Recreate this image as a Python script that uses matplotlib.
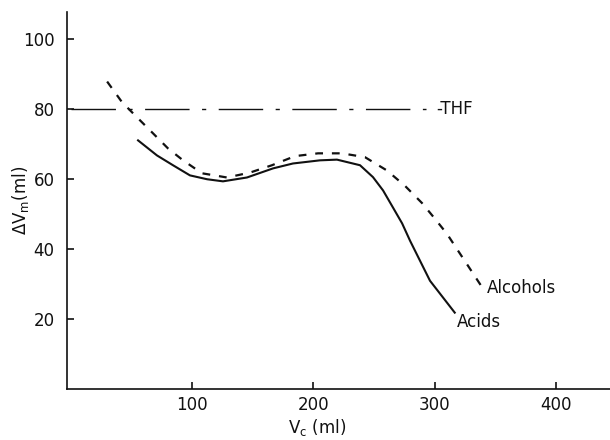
import matplotlib
matplotlib.use("Agg")
import matplotlib.pyplot as plt

plt.rcParams.update({"font.family": "DejaVu Sans", "font.size": 12,
                     "mathtext.default": "regular"})

# ---- elution data ----
VC_ACIDS = [55.5, 71.1, 84.3, 98.3, 112.4, 125.5, 145.3, 166.8, 183.2, 205.5,
            219.5, 238.5, 249.2, 257.5, 265.7, 273.2, 279.8, 288.0, 296.2,
            304.5, 316.6]
DV_ACIDS = [71.0, 66.7, 63.9, 61.0, 59.9, 59.3, 60.4, 63.0, 64.4, 65.3,
            65.5, 63.9, 60.5, 56.7, 51.8, 47.3, 42.3, 36.6, 30.9, 27.2, 21.8]

VC_ALC = [30.0, 42.3, 54.6, 67.0, 80.2, 92.6, 108.2, 128.8, 147.8, 165.9,
          184.9, 203.9, 223.6, 242.6, 260.7, 275.6, 289.6, 300.3, 310.2,
          319.3, 327.5, 338.3]
DV_ALC = [87.8, 81.9, 77.6, 73.3, 68.7, 65.3, 61.6, 60.4, 61.8, 63.9, 66.5,
          67.3, 67.3, 66.2, 62.4, 58.0, 53.1, 48.6, 44.3, 39.5, 35.2, 29.5]

VC_THF = [0, 293]
DV_THF = [80, 80]

XTICKS = [100, 200, 300, 400]
YTICKS = [20, 40, 60, 80, 100]

fig = plt.figure(figsize=(6.1, 4.4), dpi=100)
ax = fig.add_axes([0.110, 0.116, 0.890, 0.857])
ink = "#111111"

ax.plot(VC_THF, DV_THF, color=ink, lw=1.0, linestyle=(0, (32, 9, 3, 9)))
ax.plot(VC_ALC, DV_ALC, color=ink, lw=1.6, linestyle=(0, (3.5, 4)))
ax.plot(VC_ACIDS, DV_ACIDS, color=ink, lw=1.5)

ax.text(301, 80, "-THF", va="center", ha="left", color=ink)
ax.text(343, 28.7, "Alcohols", va="center", ha="left", color=ink)
ax.text(318.5, 19.0, "Acids", va="center", ha="left", color=ink)

ax.set_xlim(-3, 444.6)
ax.set_ylim(0, 107.7)
ax.set_xticks(XTICKS)
ax.set_yticks(YTICKS)
for s in ("top", "right"):
    ax.spines[s].set_visible(False)
for s in ("left", "bottom"):
    ax.spines[s].set_linewidth(1.2)
    ax.spines[s].set_color(ink)
ax.tick_params(axis="both", direction="in", length=5, width=1.2, colors=ink)
ax.tick_params(axis="y", pad=9)
ax.tick_params(axis="x", pad=5)

ax.set_xlabel("V$_c$ (ml)", color=ink)
ax.xaxis.set_label_coords(0.46, -0.074)
ax.set_ylabel(r"$\Delta$V$_m$(ml)", color=ink)
ax.yaxis.set_label_coords(-0.066, 0.5)

fig.savefig("out.png", dpi=100)
